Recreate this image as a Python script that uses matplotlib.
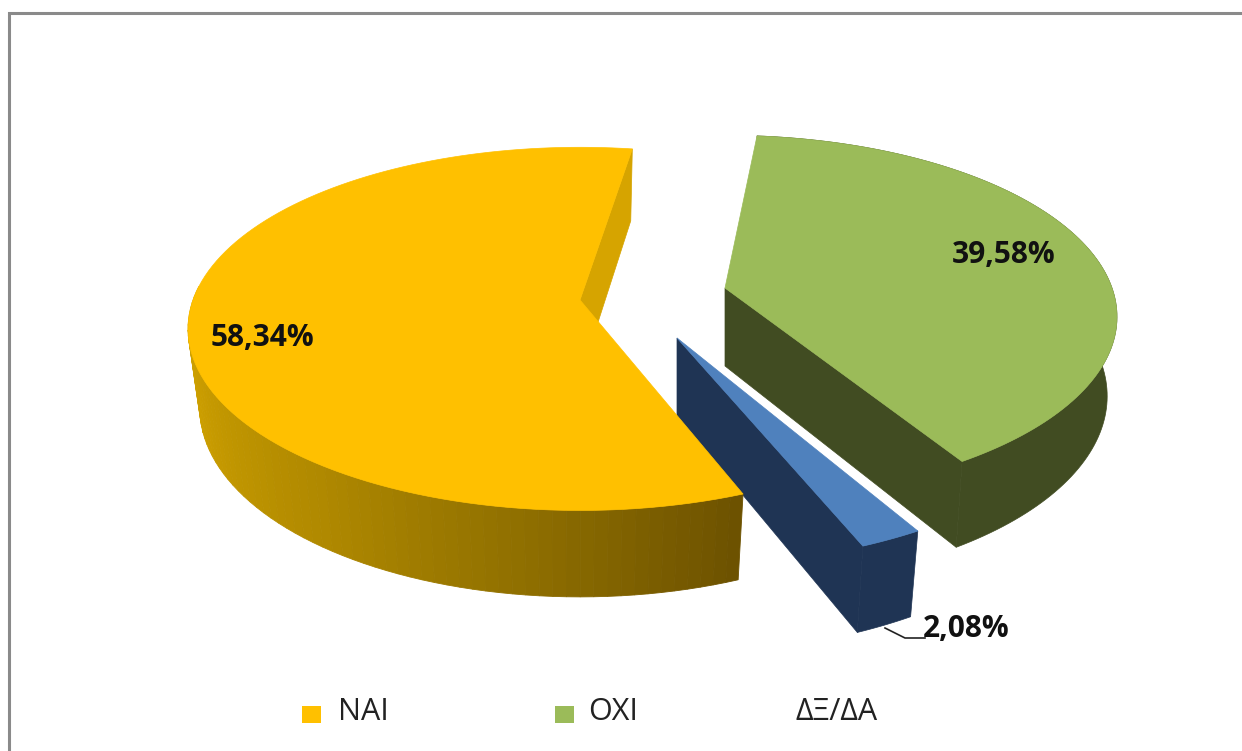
import numpy as np
import matplotlib
matplotlib.use('Agg')
import matplotlib.pyplot as plt
from matplotlib.colors import to_rgb
from matplotlib.patches import Polygon, Rectangle

# data
names = ['ΝΑΙ', 'ΟΧΙ', 'ΔΞ/ΔΑ']
values = [58.34, 39.58, 2.08]
labels = ['58,34%', '39,58%', '2,08%']

# looks
top_colors = ['#FFC000', '#9BBB59', '#4F81BD']
wall_colors = ['#D6A400', '#414C22', '#1F3454']
legend_colors = ['#FFC000', '#9BBB59', None]
yellow_stops = ['#DBAA00', '#C79B00', '#B08900', '#8F6F00', '#6B5000']

# pie geometry, all in pixels of the picture
start = 83.5
A, B, K = 387, 177, 0.159
DEPTH = 78
tips = [(580, 300), (725, 288), (677, 338)]
radii = [1.0, 1.0, 1.07]
shrinks = [0.97, 0.975, 0.97]
turn = [-2.5, 1.0, -1.3]  # the perspective in the original moves each slice a bit


def top_pt(i, deg, r=None):
    r = radii[i] if r is None else r
    t = np.radians(deg)
    u, v = r * np.cos(t), r * np.sin(t)
    w = 1 + K * v
    return tips[i][0] + A * u / w, tips[i][1] - B * v / w


def low_pt(i, deg, r=None):
    r = radii[i] if r is None else r
    v = r * np.sin(np.radians(deg))
    w = 1 + K * v
    x, y = top_pt(i, deg, r)
    s = shrinks[i]
    return tips[i][0] + s * (x - tips[i][0]), tips[i][1] + s * (y - tips[i][1]) + DEPTH / w


def shade(frac):
    pos = frac * (len(yellow_stops) - 1)
    j = min(int(pos), len(yellow_stops) - 2)
    a, b = np.array(to_rgb(yellow_stops[j])), np.array(to_rgb(yellow_stops[j + 1]))
    return a + (b - a) * (pos - j)


def draw_slice(ax, i, a0, a1, gradient=False):
    a0, a1 = a0 + turn[i], a1 + turn[i]
    # radial wall
    pts = [top_pt(i, a0), top_pt(i, a0, 0), low_pt(i, a0, 0), low_pt(i, a0)]
    ax.add_patch(Polygon(pts, fc=wall_colors[i], ec=wall_colors[i], lw=0.5))
    # outer side
    ang = np.linspace(a0, a1, 121)
    if gradient:
        vis = ang[ang >= 175]
        for j in range(len(vis) - 1):
            q = [top_pt(i, vis[j]), top_pt(i, vis[j + 1]), low_pt(i, vis[j + 1]), low_pt(i, vis[j])]
            c = shade((vis[j] - vis[0]) / (vis[-1] - vis[0]))
            ax.add_patch(Polygon(q, fc=c, ec=c, lw=0.6))
    else:
        q = [top_pt(i, x) for x in ang] + [low_pt(i, x) for x in ang[::-1]]
        ax.add_patch(Polygon(q, fc=wall_colors[i], ec=wall_colors[i], lw=0.5))
    # top face
    q = [top_pt(i, 0, 0)] + [top_pt(i, x) for x in ang]
    ax.add_patch(Polygon(q, fc=top_colors[i], ec=top_colors[i], lw=0.5))


fig = plt.figure(figsize=(12.42, 7.51), dpi=100)
ax = fig.add_axes([0, 0, 1, 1])
ax.set_xlim(0, 1242)
ax.set_ylim(751, 0)
ax.axis('off')

# frame, only top and left are in the picture
ax.plot([8.5, 8.5, 1242], [751, 12.5, 12.5], color='#8A8A8A', lw=2.2, solid_joinstyle='miter')

sweeps = [v / sum(values) * 360 for v in values]
yellow_end = start + sweeps[0]
blue_end = yellow_end + sweeps[2]
green_end = blue_end + sweeps[1]

draw_slice(ax, 1, blue_end, green_end)
draw_slice(ax, 2, yellow_end, blue_end)
draw_slice(ax, 0, start, yellow_end, gradient=True)

# data labels
lab_font = dict(family='Open Sans', fontsize=21.5, fontweight='bold', color='#111111', va='center', ha='center')
ax.text(262, 338, labels[0], **lab_font)
ax.text(1004, 255, labels[1], **lab_font)
ax.text(966, 629, labels[2], **lab_font)
ax.plot([885, 905, 925], [628, 638, 638], color='#222222', lw=1.2)

# legend
leg_x = [302, 555, None]
txt_x = [338, 588, 795]
for i in range(3):
    if legend_colors[i]:
        ax.add_patch(Rectangle((leg_x[i], 706), 19, 17, fc=legend_colors[i], ec='none'))
    ax.text(txt_x[i], 712, names[i], family='Open Sans', fontsize=22, color='#222222', va='center', ha='left')

fig.savefig('out.png', dpi=100)
